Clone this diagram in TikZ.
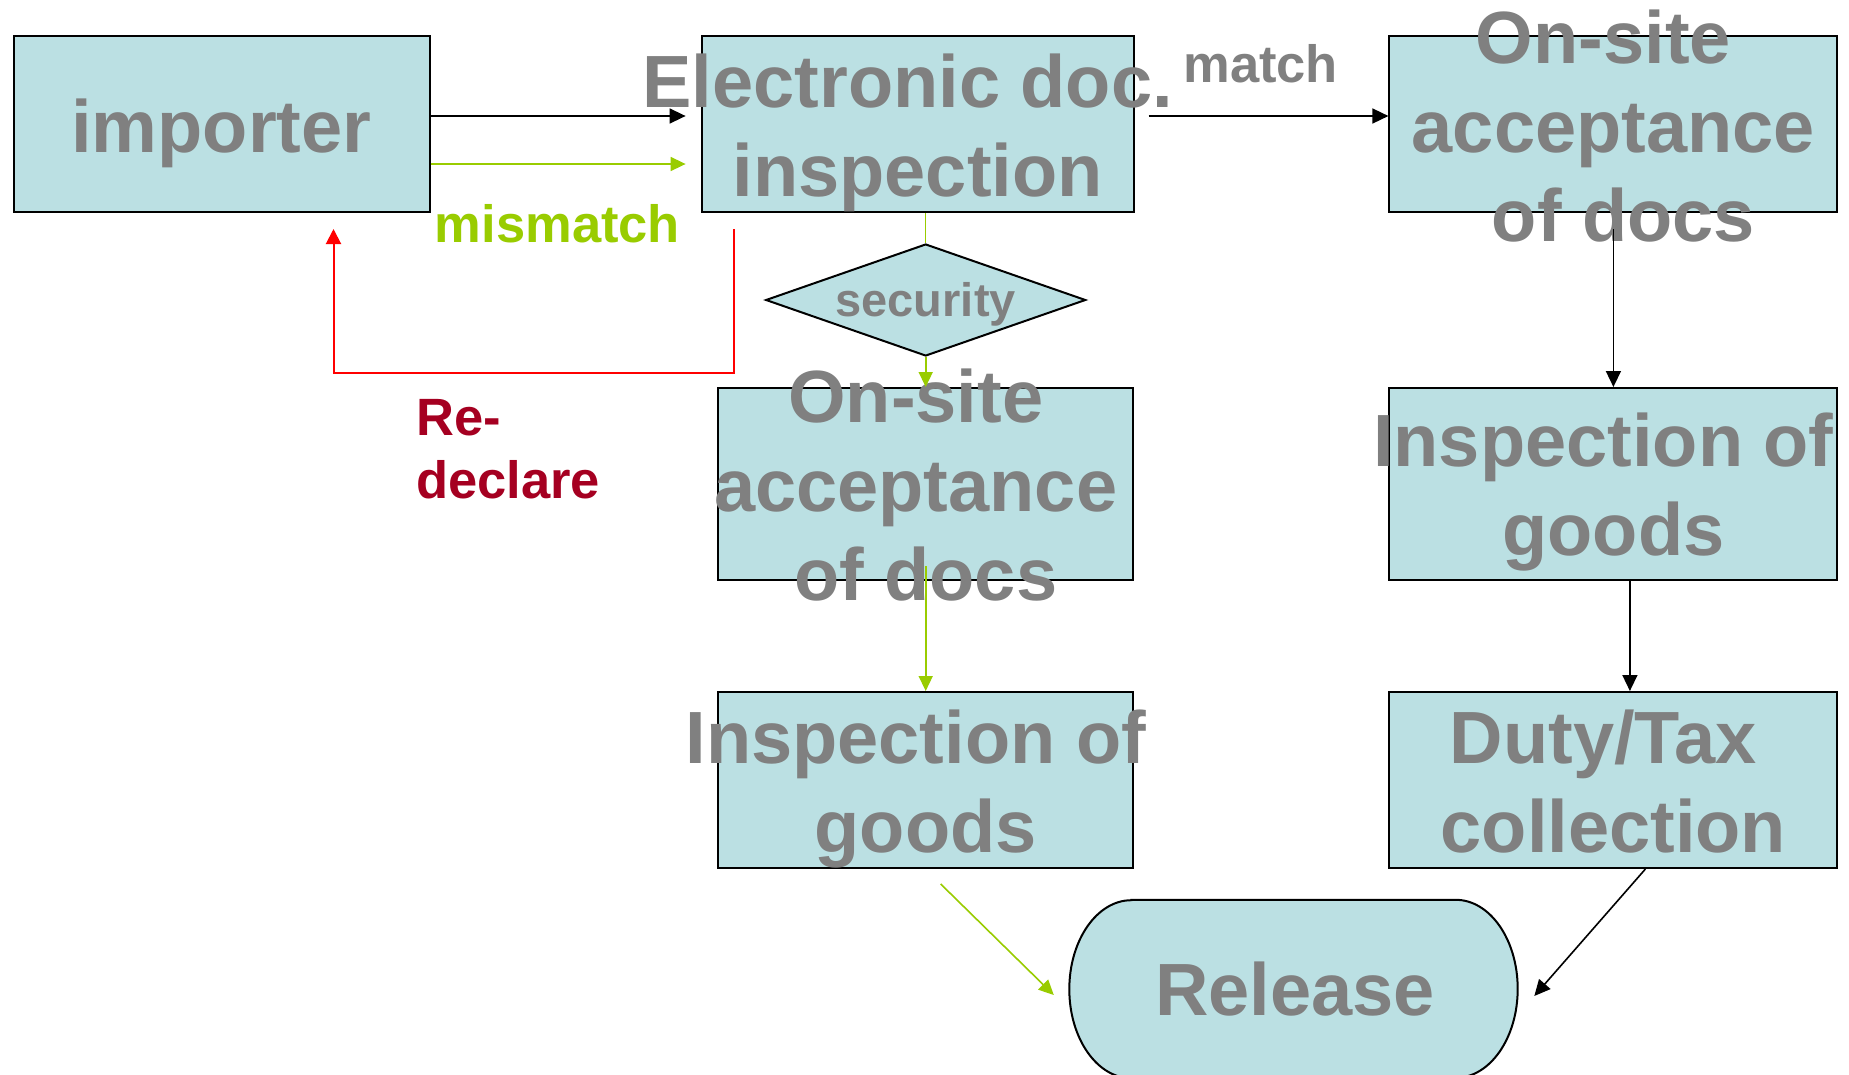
\documentclass[tikz,border=0pt]{standalone}
\usepackage{fontspec}
\setmainfont{Liberation Sans}
\usetikzlibrary{arrows.meta,calc,shapes.geometric}
\definecolor{boxfill}{HTML}{BBE0E3}
\definecolor{txtgray}{HTML}{808080}
\definecolor{lgreen}{HTML}{99CC00}
\definecolor{dred}{HTML}{A50021}
\definecolor{rline}{HTML}{FF0000}
\newcommand\mlines[1]{\begin{tabular}[t]{@{}c@{}}#1\end{tabular}}
\begin{document}
\begin{tikzpicture}[x=1pt,y=-1pt,
  box/.style={rectangle, draw=black, line width=2pt, fill=boxfill, inner sep=0pt},
  bigtxt/.style={text=txtgray, font=\bfseries\fontsize{74}{89}\selectfont, inner sep=0pt, anchor=base},
  lbl/.style={font=\bfseries\fontsize{52.5}{63}\selectfont, inner sep=0pt, anchor=base},
  sectxt/.style={text=txtgray, font=\bfseries\fontsize{47}{56}\selectfont, inner sep=0pt, anchor=base},
  blkarrow/.style={draw=black, line width=1.6pt, -{Triangle[length=16pt,width=15pt]}},
  grnarrow/.style={draw=lgreen, line width=1.6pt, -{Triangle[length=15pt,width=14pt]}},
  redarrow/.style={draw=rline, line width=2pt, -{Triangle[length=15pt,width=15pt]}},
  thingreen/.style={draw=lgreen, line width=1pt}]
\useasboundingbox (0,0) rectangle (1849,1074);
\fill[white] (0,0) rectangle (1849,1074);
% boxes
\node[box, minimum width=416pt, minimum height=176pt] (imp) at (221.5,124) {};
\node[box, minimum width=432pt, minimum height=176pt] (elec) at (917.6,124) {};
\node[box, minimum width=448pt, minimum height=176pt] (osr) at (1613.4,124) {};
\node[diamond, draw=black, line width=2pt, fill=boxfill, inner sep=0pt, minimum width=320pt, minimum height=112pt] (sec) at (925.7,300) {};
\node[box, minimum width=415.5pt, minimum height=192.4pt] (osm) at (925.7,484.2) {};
\node[box, minimum width=448pt, minimum height=192.4pt] (igr) at (1613.4,484.2) {};
\node[box, minimum width=415.5pt, minimum height=176pt] (igm) at (925.7,780) {};
\node[box, minimum width=448pt, minimum height=176pt] (duty) at (1613.4,780) {};
\node[inner sep=0pt, minimum width=448pt, minimum height=178pt] (rel) at (1293.5,989) {};
\draw[line width=2pt, fill=boxfill] ($(rel.north west)+(62,0)$) -- ($(rel.north east)+(-62,0)$)
  arc[start angle=90, end angle=-90, x radius=62pt, y radius=89pt]
  -- ($(rel.south west)+(62,0)$)
  arc[start angle=270, end angle=90, x radius=62pt, y radius=89pt] -- cycle;
% texts
\node[bigtxt] (impt) at (221.5,152.7) {importer};
\node[bigtxt] (elect) at (917.6,107) {\mlines{Electronic doc.\kern20pt\\inspection}};
\node[bigtxt] (osrt) at (1613.4,63) {\mlines{On-site\kern20pt\\acceptance\\\kern20pt of docs}};
\node[sectxt] (sect) at (925.7,316.7) {security};
\node[bigtxt] (osmt) at (925.7,422) {\mlines{On-site\kern20pt\\acceptance\kern20pt\\of docs}};
\node[bigtxt] (igrt) at (1613.4,466) {\mlines{Inspection of\kern20pt\\goods}};
\node[bigtxt] (igmt) at (925.7,763) {\mlines{Inspection of\kern20pt\\goods}};
\node[bigtxt] (dutyt) at (1613.4,763) {\mlines{Duty/Tax\kern20pt\\collection}};
\node[bigtxt] (relt) at (1295,1015) {Release};
\node[lbl, text=txtgray] (matcht) at (1260.7,82) {match};
\node[lbl, text=lgreen] (mist) at (557.5,242) {mismatch};
\node[lbl, text=dred, anchor=base west] (redt) at (416,435) {\begin{tabular}[t]{@{}l@{}}Re-\\declare\end{tabular}};
% connectors
\draw[blkarrow] ($(imp.east)+(0,-8)$) -- ($(elec.west)+(-15,-8)$);
\draw[grnarrow] ($(imp.east)+(0,40)$) -- ($(elec.west)+(-15,40)$);
\draw[blkarrow] ($(elec.east)+(14,-8)$) -- ($(osr.west)+(0,-8)$);
\draw[thingreen] (sec.north) -- (sec.north |- elec.south);
\draw[grnarrow] (sec.south) -- (osm.north);
\draw[grnarrow] ($(osm.south)+(0,-15)$) -- (igm.north);
\draw[blkarrow] ($(osr.south)+(0,16)$) -- (igr.north);
\draw[blkarrow] ($(igr.south)+(16.5,0)$) -- ($(duty.north)+(16.5,0)$);
\draw[blkarrow] ($(duty.south)+(32,0)$) -- ($(rel.east)+(16.6,7)$);
\draw[grnarrow] ($(igm.south)+(15,15)$) -- ($(rel.west)+(-15.5,6)$);
\draw[redarrow] ($(elec.south)+(-184.1,16)$) |- ($(imp.south)+(112,160)$) -- ($(imp.south)+(112,16)$);
\end{tikzpicture}
\end{document}
